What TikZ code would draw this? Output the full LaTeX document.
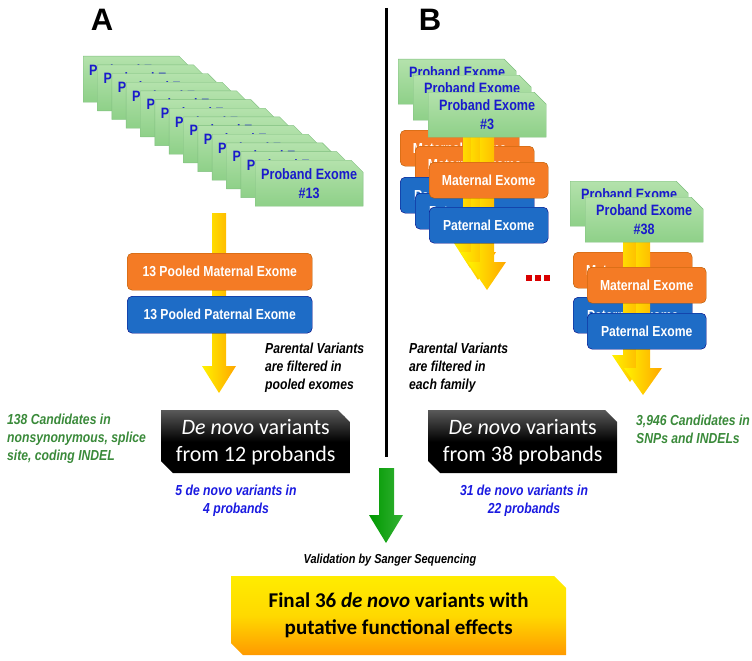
\documentclass[tikz,border=0pt]{standalone}
\usepackage{fontspec}
\setmainfont{Liberation Sans}
\newfontfamily\narrow{Liberation Sans}[FakeStretch=0.84]
\newfontfamily\calib{Carlito}
\usetikzlibrary{shapes.misc}
\definecolor{cardtxt}{HTML}{1A1ACC}
\definecolor{glab}{HTML}{3A8A3A}
\definecolor{blab}{HTML}{1A1AE0}
\definecolor{cardtop}{HTML}{B4E2AC}
\definecolor{cardbot}{HTML}{8ED088}
\definecolor{ora}{HTML}{F47B25}
\definecolor{blu}{HTML}{1E6CC6}
\tikzset{
 card/.style={chamfered rectangle, chamfered rectangle corners=north east, chamfered rectangle xsep=6pt, chamfered rectangle ysep=6pt,
   anchor=north west, draw=green!50!black!50, top color=cardtop, bottom color=cardbot,
   text=cardtxt, font=\narrow\bfseries\fontsize{15}{19}\selectfont, align=center, inner sep=0pt},
 obox/.style={rounded corners=5pt, anchor=north west, fill=ora, draw=orange!70!black, text=white,
   font=\narrow\bfseries\fontsize{14.5}{17}\selectfont, inner sep=0pt},
 bbox/.style={obox, fill=blu, draw=blue!50!black},
 blk/.style={chamfered rectangle, chamfered rectangle corners={north east,south west}, chamfered rectangle xsep=6pt, chamfered rectangle ysep=6pt,
   anchor=north west, top color=black!65, bottom color=black, middle color=black, text=white, align=center, inner sep=0pt,
   font=\calib\fontsize{22}{27}\selectfont},
 lab/.style={font=\narrow\bfseries\itshape\fontsize{14.5}{18}\selectfont, align=left, anchor=north west, inner sep=0pt},
 yarrow/.style={left color=yellow!90!orange, right color=orange!70!yellow, draw=none},
}
\newcommand\yarr[6]{% x top shaftHalf headY headHalf tipY
 \shade[yarrow] (#1-#3,#2) -- (#1+#3,#2) -- (#1+#3,#4) -- (#1+#5,#4) -- (#1,#6) -- (#1-#5,#4) -- (#1-#3,#4) -- cycle;}
\begin{document}
\begin{tikzpicture}[x=1pt,y=-1pt]
\useasboundingbox (0,0) rectangle (752,661);
% labels
\node[font=\bfseries\fontsize{31}{31}\selectfont] (A) at (102,20) {A};
\node[font=\bfseries\fontsize{31}{31}\selectfont] (B) at (430,20) {B};
\draw[line width=3pt] (386,8) -- (386,457);
% A stack
\foreach \i in {0,...,11}{
  \node[card, minimum width=105, minimum height=46] (a\i) at ({83+14.33*\i},{56+8.67*\i}) {Proband Exome\\\#13};
}
\yarr{219}{213}{7}{366}{17}{393}
\node[card, minimum width=105, minimum height=46] (a12) at (255,160) {Proband Exome\\\#13};
\node[obox, minimum width=185, minimum height=37] (am) at (127,253) {13 Pooled Maternal Exome};
\node[bbox, minimum width=185, minimum height=37] (ap) at (127,296) {13 Pooled Paternal Exome};
\node[lab] (pa) at (265,343) {Parental Variants\\are filtered in\\pooled exomes};
\node[blk, minimum width=189, minimum height=63] (dA) at (161,410) {\itshape De novo\upshape{} variants\\from 12 probands};
\node[lab, text=glab] (cA) at (7,414) {138 Candidates in\\nonsynonymous, splice\\site, coding INDEL};
\node[lab, text=blab, align=center, anchor=north] (vA) at (236,485) {5 de novo variants in\\4 probands};
% B stack 1
\node[card, minimum width=118, minimum height=45] (b1) at (398,59) {Proband Exome\\\#3};
\node[card, minimum width=118, minimum height=45] (b2) at (413,75) {Proband Exome\\\#3};
\node[obox, minimum width=119, minimum height=36] (bm1) at (400,130) {Maternal Exome};
\node[obox, minimum width=119, minimum height=36] (bm2) at (415,146) {Maternal Exome};
\node[bbox, minimum width=119, minimum height=36] (bp1) at (400,177) {Paternal Exome};
\node[bbox, minimum width=119, minimum height=36] (bp2) at (415,193) {Paternal Exome};
\yarr{470}{105}{7}{240}{18}{268}
\yarr{478}{120}{7}{252}{18}{280}
\yarr{487}{137}{7}{262}{19}{290}
\node[card, minimum width=118, minimum height=45] (b3) at (428,92) {Proband Exome\\\#3};
\node[obox, minimum width=119, minimum height=36] (bm3) at (429,162) {Maternal Exome};
\node[bbox, minimum width=119, minimum height=36] (bp3) at (429,207) {Paternal Exome};
\foreach \k in {0,1,2}{\fill[red!85!black] ({526+9*\k},275) rectangle ++(6,6);}
\coordinate (dots) at (538,278);
% B stack 2
\node[card, minimum width=118, minimum height=45] (c1) at (570,181) {Proband Exome\\\#38};
\node[obox, minimum width=119, minimum height=36] (cm1) at (573,252) {Maternal Exome};
\node[bbox, minimum width=119, minimum height=36] (cp1) at (573,297) {Paternal Exome};
\yarr{630}{230}{7}{355}{18}{382}
\yarr{643}{242}{7}{368}{19}{395}
\node[card, minimum width=118, minimum height=45] (c2) at (585,197) {Proband Exome\\\#38};
\node[obox, minimum width=119, minimum height=36] (cm2) at (587,267) {Maternal Exome};
\node[bbox, minimum width=119, minimum height=36] (cp2) at (587,313) {Paternal Exome};
\node[lab] (pb) at (409,343) {Parental Variants\\are filtered in\\each family};
\node[blk, minimum width=189, minimum height=63] (dB) at (428,410) {\itshape De novo\upshape{} variants\\from 38 probands};
\node[lab, text=glab] (cB) at (636,415) {3,946 Candidates in\\SNPs and INDELs};
\node[lab, text=blab, align=center, anchor=north] (vB) at (524,485) {31 de novo variants in\\22 probands};
% green arrow
\shade[left color=green!60!black, right color=green!70!white!70!black, draw=none]
  (379,468) -- (394,468) -- (394,515) -- (403,515) -- (386,543) -- (369,515) -- (379,515) -- cycle;
\node[font=\narrow\bfseries\itshape\fontsize{13}{15}\selectfont] (val) at (390,560) {Validation by Sanger Sequencing};
\node[chamfered rectangle, chamfered rectangle corners={north east,south west}, chamfered rectangle xsep=6pt, chamfered rectangle ysep=6pt,
   anchor=north west, minimum width=335, minimum height=79, inner sep=0pt, align=center,
   top color=yellow!85!orange, bottom color=orange!80!yellow, middle color=yellow!70!orange,
   font=\calib\bfseries\fontsize{21}{27}\selectfont] (fin) at (231,576) {Final 36 \itshape de novo\upshape{} variants with\\putative functional effects};
\end{tikzpicture}
\end{document}
